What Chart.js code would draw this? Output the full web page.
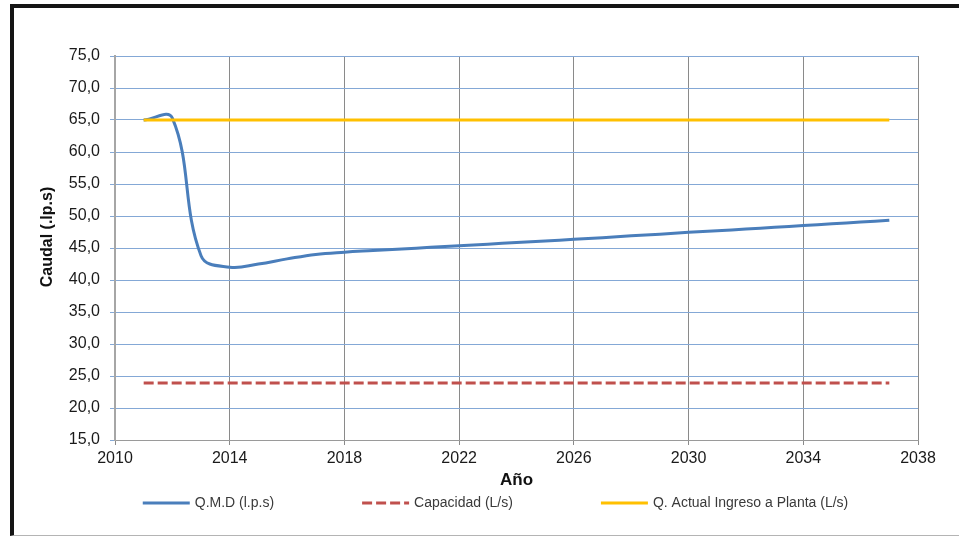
<!DOCTYPE html>
<html>
<head>
<meta charset="utf-8">
<script src="https://cdn.jsdelivr.net/npm/chart.js@4.4.1/dist/chart.umd.min.js"></script>
<style>
  html, body { margin: 0; padding: 0; background: #ffffff; }
  #wrap { position: relative; width: 959px; height: 537px; overflow: hidden; }
  #frame {
    position: absolute; left: 10px; top: 4px; width: 960px; height: 527px;
    border-top: 4px solid #151515; border-left: 4px solid #151515; border-bottom: 1px solid #b4b4b4;
  }
  canvas { position: absolute; left: 0; top: 0; }
</style>
</head>
<body>
<div id="wrap">
  <div id="frame"></div>
  <canvas id="chart" width="959" height="537"></canvas>
</div>
<script>
// Años del período de diseño
const years = [2011, 2012, 2013, 2014, 2015, 2016, 2017, 2018, 2019, 2020,
               2021, 2022, 2023, 2024, 2025, 2026, 2027, 2028, 2029, 2030,
               2031, 2032, 2033, 2034, 2035, 2036, 2037];

// Caudal máximo diario (l.p.s)
const qmd = [65.0, 65.3, 43.8, 42.0, 42.5, 43.3, 44.0, 44.35, 44.6, 44.85,
             45.1, 45.35, 45.6, 45.85, 46.1, 46.35, 46.6, 46.9, 47.15, 47.45,
             47.7, 47.95, 48.25, 48.5, 48.8, 49.05, 49.35];

// Capacidad de la planta (L/s)
const capacidad = [23.9, 23.9, 23.9, 23.9, 23.9, 23.9, 23.9, 23.9, 23.9, 23.9,
                   23.9, 23.9, 23.9, 23.9, 23.9, 23.9, 23.9, 23.9, 23.9, 23.9,
                   23.9, 23.9, 23.9, 23.9, 23.9, 23.9, 23.9];

// Caudal actual que ingresa a la planta (L/s)
const ingresoPlanta = [65.0, 65.0, 65.0, 65.0, 65.0, 65.0, 65.0, 65.0, 65.0, 65.0,
                       65.0, 65.0, 65.0, 65.0, 65.0, 65.0, 65.0, 65.0, 65.0, 65.0,
                       65.0, 65.0, 65.0, 65.0, 65.0, 65.0, 65.0];

const seriesNames = ['Q.M.D (l.p.s)', 'Capacidad (L/s)', 'Q. Actual Ingreso a Planta (L/s)'];
const xTicks = [2010, 2014, 2018, 2022, 2026, 2030, 2034, 2038];
const yTicks = [15, 20, 25, 30, 35, 40, 45, 50, 55, 60, 65, 70, 75];
const xTitle = 'Año';
const yTitle = 'Caudal (.lp.s)';

const FONT = '"Liberation Sans", Arial, sans-serif';

function points(values) {
  return years.map((x, i) => ({ x: x, y: values[i] }));
}

// Título del eje Y y leyenda inferior
const extras = {
  id: 'extras',
  afterDraw(chart) {
    const ctx = chart.ctx;
    const area = chart.chartArea;

    ctx.save();
    ctx.translate(48, (area.top + area.bottom) / 2 - 11);
    ctx.rotate(-Math.PI / 2);
    ctx.font = 'bold 16px ' + FONT;
    ctx.fillStyle = '#111111';
    ctx.textAlign = 'center';
    ctx.textBaseline = 'middle';
    ctx.fillText(yTitle, 0, 0);
    ctx.restore();

    const sample = 47, textGap = 5, itemGap = 88, y = 503, center = 495.5;
    ctx.save();
    ctx.font = '14px ' + FONT;
    const sets = chart.data.datasets;
    const widths = sets.map(ds => sample + textGap + ctx.measureText(ds.label).width);
    const total = widths.reduce((a, b) => a + b, 0) + itemGap * (sets.length - 1);
    let x = center - total / 2;
    sets.forEach((ds, i) => {
      ctx.beginPath();
      ctx.setLineDash(ds.borderDash || []);
      ctx.lineWidth = ds.borderWidth;
      ctx.strokeStyle = ds.borderColor;
      ctx.moveTo(x, y);
      ctx.lineTo(x + sample, y);
      ctx.stroke();
      ctx.setLineDash([]);
      ctx.fillStyle = '#3a3a3a';
      ctx.textAlign = 'left';
      ctx.textBaseline = 'middle';
      ctx.fillText(ds.label, x + sample + textGap, y);
      x += widths[i] + itemGap;
    });
    ctx.restore();
  }
};

new Chart(document.getElementById('chart'), {
  type: 'line',
  data: {
    datasets: [
      {
        label: seriesNames[0],
        data: points(qmd),
        borderColor: '#4a7ebb',
        borderWidth: 3,
        pointRadius: 0,
        tension: 0.4,
        order: 2
      },
      {
        label: seriesNames[1],
        data: points(capacidad),
        borderColor: '#c0504d',
        borderWidth: 3,
        borderDash: [10, 4],
        pointRadius: 0,
        order: 1
      },
      {
        label: seriesNames[2],
        data: points(ingresoPlanta),
        borderColor: '#ffc000',
        borderWidth: 3,
        pointRadius: 0,
        order: 0
      }
    ]
  },
  options: {
    responsive: false,
    animation: false,
    devicePixelRatio: 1,
    layout: { padding: { left: 15, right: 41, top: 56, bottom: 42 } },
    plugins: {
      legend: { display: false },
      tooltip: { enabled: false }
    },
    scales: {
      x: {
        type: 'linear',
        min: 2010,
        max: 2038,
        afterBuildTicks: s => { s.ticks = xTicks.map(v => ({ value: v })); },
        afterFit: s => { s.height = 55; },
        ticks: {
          callback: v => String(v),
          color: '#1a1a1a',
          font: { family: FONT, size: 16 },
          padding: 4,
          maxRotation: 0
        },
        grid: { color: '#8a8a8a', lineWidth: 1, tickLength: 5 },
        border: { color: '#9a9a9a', width: 1 },
        title: {
          display: true,
          text: xTitle,
          color: '#111111',
          font: { family: FONT, size: 17, weight: 'bold' },
          padding: { top: 0, bottom: 4 }
        }
      },
      y: {
        min: 15,
        max: 75,
        afterBuildTicks: s => { s.ticks = yTicks.map(v => ({ value: v })); },
        afterFit: s => { s.width = 100; },
        ticks: {
          callback: v => v.toFixed(1).replace('.', ','),
          color: '#1a1a1a',
          font: { family: FONT, size: 16 },
          padding: 10
        },
        grid: { color: '#84a8d6', lineWidth: 1, tickLength: 5 },
        border: { color: '#a6a6a6', width: 2 }
      }
    }
  },
  plugins: [extras]
});
</script>
</body>
</html>
